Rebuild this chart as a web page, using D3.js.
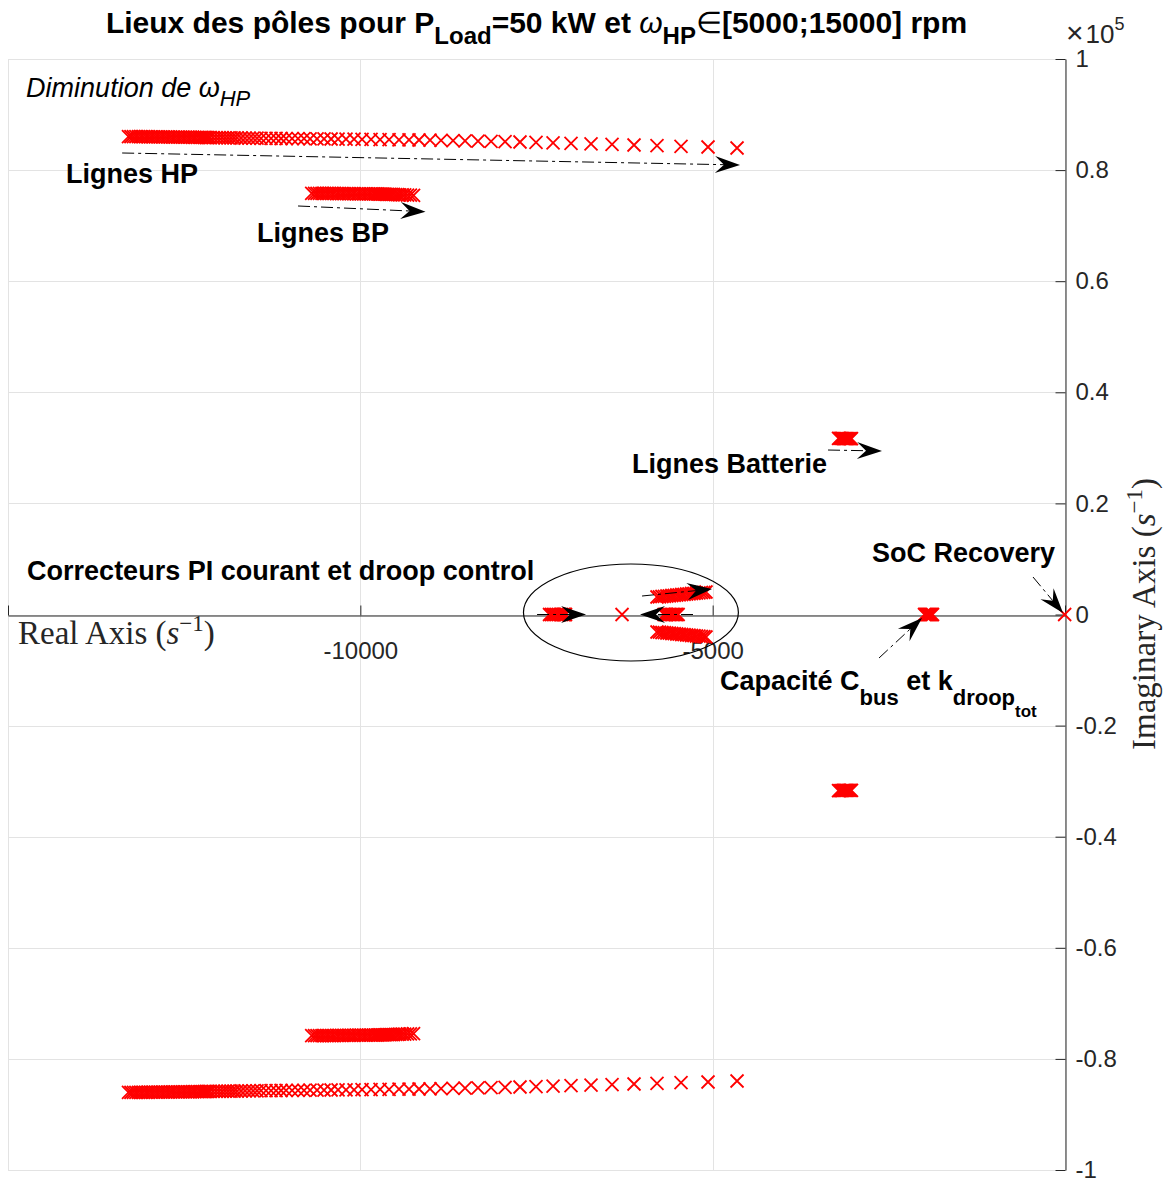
<!DOCTYPE html>
<html>
<head>
<meta charset="utf-8">
<script src="https://cdn.jsdelivr.net/npm/d3@7"></script>
<style>
  body { margin: 0; background: #fff; }
  svg { display: block; }
  text { font-family: "Liberation Sans", Arial, Helvetica, sans-serif; }
</style>
</head>
<body>
<div id="chart"></div>
<script>
// axis ticks
var xTicks = [-15000, -10000, -5000, 0];
var xTickLabels = ["", "-10000", "-5000", ""];
var yTicks = [-100000, -80000, -60000, -40000, -20000, 0, 20000, 40000, 60000, 80000, 100000];
var yTickLabels = ["-1", "-0.8", "-0.6", "-0.4", "-0.2", "0", "0.2", "0.4", "0.6", "0.8", "1"];

// poles [real, imag] (upper half plane, conjugates drawn too)
var hpPoles = [
  [-4654, 83980], [-5066, 84160], [-5449, 84290], [-5790, 84410], [-6116, 84520],
  [-6428, 84630], [-6726, 84740], [-7010, 84830], [-7265, 84920], [-7507, 84990],
  [-7734, 85060], [-7946, 85110], [-8145, 85170], [-8330, 85220], [-8514, 85280],
  [-8684, 85310], [-8855, 85350], [-9011, 85380], [-9167, 85420], [-9309, 85440],
  [-9451, 85460], [-9592, 85480], [-9720, 85500], [-9848, 85520], [-9976, 85540],
  [-10089, 85560], [-10203, 85580], [-10316, 85590], [-10415, 85600], [-10515, 85610],
  [-10614, 85620], [-10713, 85640], [-10799, 85650], [-10884, 85660], [-10969, 85670],
  [-11054, 85680], [-11125, 85690], [-11196, 85700], [-11267, 85710], [-11338, 85720],
  [-11409, 85730], [-11466, 85740], [-11522, 85750], [-11579, 85760], [-11636, 85770],
  [-11693, 85780], [-11749, 85790], [-11792, 85800], [-11834, 85810], [-11877, 85815],
  [-11920, 85820], [-11962, 85830], [-12005, 85840], [-12047, 85845], [-12090, 85850],
  [-12132, 85860], [-12161, 85865], [-12189, 85870], [-12217, 85880], [-12246, 85890],
  [-12274, 85900], [-12310, 85905], [-12345, 85910], [-12380, 85915], [-12415, 85920],
  [-12450, 85925], [-12485, 85930], [-12520, 85935], [-12555, 85940], [-12590, 85945],
  [-12625, 85950], [-12660, 85955], [-12695, 85960], [-12730, 85965], [-12765, 85970],
  [-12800, 85975], [-12835, 85980], [-12870, 85985], [-12905, 85990], [-12940, 85995],
  [-12975, 86000], [-13010, 86005], [-13045, 86010], [-13080, 86015], [-13115, 86020],
  [-13150, 86025], [-13185, 86030], [-13220, 86035], [-13255, 86040], [-13290, 86045]
];
var bpPoles = [
  [-9245, 75450], [-9290, 75480], [-9330, 75500], [-9370, 75520], [-9405, 75540],
  [-9440, 75560], [-9470, 75580], [-9500, 75600], [-9530, 75610], [-9560, 75620],
  [-9585, 75630], [-9610, 75640], [-9635, 75650], [-9660, 75660], [-9685, 75670],
  [-9710, 75680], [-9735, 75690], [-9760, 75700], [-9785, 75700], [-9810, 75710],
  [-9845, 75710], [-9880, 75720], [-9915, 75720], [-9950, 75730], [-9985, 75730],
  [-10020, 75740], [-10055, 75740], [-10090, 75750], [-10125, 75750], [-10160, 75760],
  [-10195, 75760], [-10230, 75770], [-10265, 75770], [-10300, 75780], [-10335, 75780],
  [-10370, 75790], [-10405, 75790], [-10440, 75800], [-10475, 75800], [-10510, 75800],
  [-10545, 75810], [-10580, 75810], [-10615, 75810], [-10650, 75820], [-10690, 75820]
];
var battPoles = [
  [-3214, 31700], [-3195, 31700], [-3178, 31690], [-3162, 31690], [-3146, 31680],
  [-3130, 31680], [-3114, 31670], [-3098, 31670], [-3080, 31660], [-3063, 31660],
  [-3046, 31650], [-3030, 31650]
];
var piPolesA = [-7315, -7290, -7265, -7240, -7215, -7190, -7165, -7140, -7115, -7100, -7088];
var piPoleFixed = [-6286];
var piPolesB = [-5690, -5670, -5650, -5630, -5610, -5590, -5570, -5550, -5530, -5510, -5490];
var piPolesC = [
  [-5790, 3150], [-5755, 3190], [-5720, 3240], [-5685, 3280], [-5650, 3330],
  [-5615, 3370], [-5580, 3420], [-5545, 3460], [-5510, 3510], [-5475, 3550],
  [-5440, 3600], [-5405, 3640], [-5370, 3690], [-5335, 3730], [-5300, 3780],
  [-5265, 3820], [-5230, 3870], [-5195, 3910], [-5160, 3960], [-5125, 4000],
  [-5095, 4050]
];
var cbusPoles = [-1994, -1980, -1966, -1952, -1938, -1924, -1910, -1895, -1880];
var socPoles = [-5];

// annotation arrows in data units [x1, y1, x2, y2]
var arrows = [
  [-13380, 83080, -4612, 80920],
  [-10884, 73540, -9075, 72510],
  [-3363, 29610, -2597, 29430],
  [-7492, 0, -6797, 0],
  [-5279, 0, -6031, 0],
  [-6002, 3330, -5009, 4590],
  [-2639, -7830, -2029, -630],
  [-454, 6750, -28, 270]
];

var width = 1173, height = 1180;
var serif = "'Liberation Serif', 'DejaVu Serif', serif";
var x = d3.scaleLinear().domain([-15000, 0]).range([8, 1065]);
var y = d3.scaleLinear().domain([-100000, 100000]).range([1170, 59]);

var svg = d3.select("#chart").append("svg")
    .attr("width", width)
    .attr("height", height);

svg.append("rect").attr("width", width).attr("height", height).attr("fill", "#fff");

// grid
var grid = svg.append("g").attr("stroke", "#e3e3e3").attr("stroke-width", 1);
yTicks.forEach(function(t) {
    grid.append("line")
        .attr("x1", x(-15000)).attr("x2", x(0))
        .attr("y1", Math.round(y(t)) + 0.5).attr("y2", Math.round(y(t)) + 0.5);
});
xTicks.forEach(function(t) {
    grid.append("line")
        .attr("x1", Math.round(x(t)) + 0.5).attr("x2", Math.round(x(t)) + 0.5)
        .attr("y1", y(100000)).attr("y2", y(-100000));
});

// x axis along imag = 0
var xAxis = svg.append("g")
    .attr("transform", "translate(0," + (Math.round(y(0)) + 0.5) + ")")
    .call(d3.axisBottom(x).tickValues(xTicks).tickSizeInner(-10).tickSizeOuter(0).tickPadding(26)
        .tickFormat(function(d, i) { return xTickLabels[i]; }));
xAxis.select(".domain").attr("stroke", "#262626");
xAxis.selectAll(".tick line").attr("stroke", "#262626");
xAxis.selectAll("text").attr("font-size", 24).attr("fill", "#262626");

// y axis along real = 0
var yAxis = svg.append("g")
    .attr("transform", "translate(" + (Math.round(x(0)) + 0.5) + ",0)")
    .call(d3.axisRight(y).tickValues(yTicks).tickSizeInner(-10).tickSizeOuter(0).tickPadding(10)
        .tickFormat(function(d, i) { return yTickLabels[i]; }));
yAxis.select(".domain").attr("stroke", "#262626");
yAxis.selectAll(".tick line").attr("stroke", "#262626");
yAxis.selectAll("text").attr("font-size", 24).attr("fill", "#262626");

// exponent label
var expo = svg.append("text").attr("x", 1066).attr("y", 43).attr("font-size", 26).attr("fill", "#262626");
expo.append("tspan").text("\u00d7").attr("font-size", 30);
expo.append("tspan").text("10").attr("dx", 2);
expo.append("tspan").text("5").attr("font-size", 18).attr("dy", -13);

// axis labels (serif, latex-like)
var xl = svg.append("text").attr("x", 18).attr("y", 644)
    .style("font-family", serif).attr("font-size", 33).attr("fill", "#262626");
xl.append("tspan").text("Real Axis (");
xl.append("tspan").text("s").attr("font-style", "italic");
xl.append("tspan").text("\u22121").attr("font-size", 23).attr("dy", -13);
xl.append("tspan").text(")").attr("dy", 13);

var yl = svg.append("text")
    .attr("transform", "translate(1155,614) rotate(-90)")
    .attr("text-anchor", "middle")
    .style("font-family", serif).attr("font-size", 33).attr("fill", "#262626");
yl.append("tspan").text("Imaginary Axis (");
yl.append("tspan").text("s").attr("font-style", "italic");
yl.append("tspan").text("\u22121").attr("font-size", 23).attr("dy", -13);
yl.append("tspan").text(")").attr("dy", 13);

// poles
var marks = svg.append("g").attr("fill", "none").attr("stroke", "#ff0000").attr("stroke-width", 1.8);
function drawX(re, im) {
    marks.append("path")
        .attr("transform", "translate(" + x(re) + "," + y(im) + ")")
        .attr("d", "M-6.5,-6.5L6.5,6.5M-6.5,6.5L6.5,-6.5");
}
[hpPoles, bpPoles, battPoles, piPolesC].forEach(function(set) {
    set.forEach(function(p) { drawX(p[0], p[1]); drawX(p[0], -p[1]); });
});
[piPolesA, piPoleFixed, piPolesB, cbusPoles, socPoles].forEach(function(set) {
    set.forEach(function(r) { drawX(r, 0); });
});

// ellipse around PI / droop poles
var ec = [-6160, 360], er = [1525, 8730];
svg.append("ellipse")
    .attr("cx", x(ec[0])).attr("cy", y(ec[1]))
    .attr("rx", x(ec[0] + er[0]) - x(ec[0])).attr("ry", y(ec[1]) - y(ec[1] + er[1]))
    .attr("fill", "none").attr("stroke", "#000").attr("stroke-width", 1.2);

// arrows
var arr = svg.append("g");
arrows.forEach(function(a) {
    var x1 = x(a[0]), y1 = y(a[1]), x2 = x(a[2]), y2 = y(a[3]);
    var ang = Math.atan2(y2 - y1, x2 - x1);
    var bx = x2 - 16 * Math.cos(ang), by = y2 - 16 * Math.sin(ang);
    arr.append("line")
        .attr("x1", x1).attr("y1", y1).attr("x2", bx).attr("y2", by)
        .attr("stroke", "#000").attr("stroke-width", 1)
        .attr("stroke-dasharray", "12,4,3,4");
    arr.append("path")
        .attr("transform", "translate(" + x2 + "," + y2 + ") rotate(" + (ang * 180 / Math.PI) + ")")
        .attr("d", "M0,0L-25,-8.5L-16,0L-25,8.5Z")
        .attr("fill", "#000");
});

// texts
var ann = svg.append("g").attr("fill", "#000").attr("font-size", 27).attr("font-weight", "bold");

function addText(re, im, parts, opts) {
    var t = ann.append("text").attr("x", x(re)).attr("y", y(im));
    if (opts && opts.italic) t.attr("font-style", "italic").attr("font-weight", "normal");
    parts.forEach(function(p) {
        var s = t.append("tspan").text(p.t);
        if (p.size) s.attr("font-size", p.size);
        if (p.dy) s.attr("dy", p.dy);
        if (p.style) s.attr("font-style", p.style);
        if (p.weight) s.attr("font-weight", p.weight);
    });
    return t;
}

addText(-14743, 93150, [
    { t: "Diminution de " },
    { t: "\u03c9", style: "italic" },
    { t: "HP", size: 22, dy: 9 }
], { italic: true });
addText(-14176, 77670, [{ t: "Lignes HP" }]);
addText(-11465, 67050, [{ t: "Lignes BP" }]);
addText(-6144, 25470, [{ t: "Lignes Batterie" }]);
addText(-14729, 6210, [{ t: "Correcteurs PI courant et droop control" }]);
addText(-2739, 9450, [{ t: "SoC Recovery" }]);
addText(-4896, -13590, [
    { t: "Capacit\u00e9 C" },
    { t: "bus", size: 22, dy: 15 },
    { t: " et k", dy: -15 },
    { t: "droop", size: 22, dy: 15 },
    { t: "tot", size: 17, dy: 12 }
]);

// title
var title = svg.append("text")
    .attr("x", (x(-15000) + x(0)) / 2).attr("y", 33)
    .attr("text-anchor", "middle")
    .attr("font-size", 30).attr("font-weight", "bold").attr("fill", "#000");
title.append("tspan").text("Lieux des p\u00f4les pour P");
title.append("tspan").text("Load").attr("font-size", 24).attr("dy", 11);
title.append("tspan").text("=50 kW et ").attr("dy", -11);
title.append("tspan").text("\u03c9").attr("font-style", "italic").attr("font-weight", "normal");
title.append("tspan").text("HP").attr("font-size", 24).attr("dy", 11);
title.append("tspan").text("\u2208").attr("font-weight", "normal").attr("dy", -11);
title.append("tspan").text("[5000;15000] rpm");
</script>
</body>
</html>
